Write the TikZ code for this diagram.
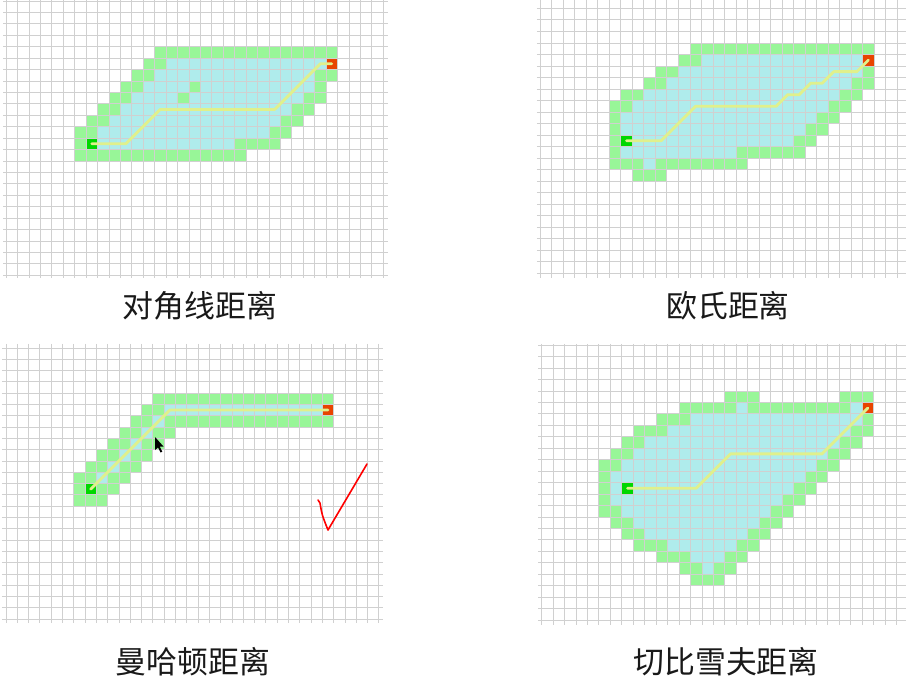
\documentclass[tikz,border=0pt]{standalone}
\usepackage{fontspec}
\newfontfamily\cjk{Noto Sans CJK SC}
\definecolor{opencol}{RGB}{152,246,152}
\definecolor{closedcol}{RGB}{175,236,236}
\definecolor{startcol}{RGB}{0,215,0}
\definecolor{endcol}{RGB}{232,68,0}
\definecolor{gridcol}{RGB}{208,208,208}
\definecolor{pathcol}{RGB}{224,240,140}
\definecolor{labelcol}{RGB}{25,25,25}
\newcommand\cellrun[4]{\fill[#1] (#3,#2) rectangle ({#4+1},{#2+1});}
\tikzset{
  gridline/.style={draw=gridcol, line width=0.65bp},
  pathline/.style={draw=pathcol, line width=2.8bp, line join=round, line cap=round},
  captext/.style={font=\cjk\fontsize{31}{36}\selectfont, text=labelcol, inner sep=0pt},
  checkmark/.style={draw=red, line width=1.6bp, line cap=round, line join=round},
}
\begin{document}
\begin{tikzpicture}[x=1bp,y={(0bp,-1bp)}]
\useasboundingbox (0,0) rectangle (906,687);
\fill[white] (0,0) rectangle (906,687);

% ---------- Panel 1: diagonal ----------
\begin{scope}[shift={(86,138)}, x=11.43bp, y={(0bp,-11.43bp)}]
\cellrun{opencol}{-8}{6}{21}
\cellrun{opencol}{-7}{5}{6} \cellrun{closedcol}{-7}{7}{20}
\cellrun{opencol}{-6}{4}{5} \cellrun{closedcol}{-6}{6}{19} \cellrun{opencol}{-6}{20}{21}
\cellrun{opencol}{-5}{3}{4} \cellrun{closedcol}{-5}{5}{19} \cellrun{opencol}{-5}{9}{9} \cellrun{opencol}{-5}{20}{20}
\cellrun{opencol}{-4}{2}{3} \cellrun{closedcol}{-4}{4}{18} \cellrun{opencol}{-4}{8}{8} \cellrun{opencol}{-4}{19}{20}
\cellrun{opencol}{-3}{1}{2} \cellrun{closedcol}{-3}{3}{17} \cellrun{opencol}{-3}{18}{19}
\cellrun{opencol}{-2}{0}{1} \cellrun{closedcol}{-2}{2}{16} \cellrun{opencol}{-2}{17}{18}
\cellrun{opencol}{-1}{-1}{0} \cellrun{closedcol}{-1}{1}{15} \cellrun{opencol}{-1}{16}{17}
\cellrun{opencol}{0}{-1}{-1} \cellrun{closedcol}{0}{1}{12} \cellrun{opencol}{0}{13}{16}
\cellrun{opencol}{1}{-1}{13}
\fill[startcol] (0,0) rectangle (1,1);
\fill[endcol] (21,-7) rectangle (22,-6);
\foreach \i in {-7,...,26} \draw[gridline] (\i,-12.07) -- (\i,12.25);
\foreach \j in {-12,...,12} \draw[gridline] (-7.26,\j) -- (26.42,\j);
\draw[pathline] (0.5,0.5) -- (3.5,0.5) -- (6.5,-2.5) -- (16.5,-2.5) -- (20.5,-6.5) -- (21.5,-6.5);
\end{scope}

% ---------- Panel 2: euclidean ----------
\begin{scope}[shift={(620.7,135)}, x=11.52bp, y={(0bp,-11.52bp)}]
\cellrun{opencol}{-8}{6}{21}
\cellrun{opencol}{-7}{5}{6} \cellrun{closedcol}{-7}{7}{20}
\cellrun{opencol}{-6}{3}{4} \cellrun{closedcol}{-6}{5}{20} \cellrun{opencol}{-6}{21}{21}
\cellrun{opencol}{-5}{2}{3} \cellrun{closedcol}{-5}{4}{19} \cellrun{opencol}{-5}{20}{21}
\cellrun{opencol}{-4}{0}{1} \cellrun{closedcol}{-4}{2}{18} \cellrun{opencol}{-4}{19}{20}
\cellrun{opencol}{-3}{-1}{0} \cellrun{closedcol}{-3}{1}{17} \cellrun{opencol}{-3}{18}{19}
\cellrun{opencol}{-2}{-1}{-1} \cellrun{closedcol}{-2}{0}{16} \cellrun{opencol}{-2}{17}{18}
\cellrun{opencol}{-1}{-1}{-1} \cellrun{closedcol}{-1}{0}{15} \cellrun{opencol}{-1}{16}{17}
\cellrun{opencol}{0}{-1}{-1} \cellrun{closedcol}{0}{1}{14} \cellrun{opencol}{0}{15}{16}
\cellrun{opencol}{1}{-1}{-1} \cellrun{closedcol}{1}{0}{9} \cellrun{opencol}{1}{10}{15}
\cellrun{opencol}{2}{-1}{1} \cellrun{closedcol}{2}{2}{2} \cellrun{opencol}{2}{3}{10}
\cellrun{opencol}{3}{1}{3}
\fill[startcol] (0,0) rectangle (1,1);
\fill[endcol] (21,-7) rectangle (22,-6);
\foreach \i in {-7,...,24} \draw[gridline] (\i,-11.72) -- (\i,12.41);
\foreach \j in {-11,...,12} \draw[gridline] (-7.27,\j) -- (24.77,\j);
\draw[pathline] (0.5,0.5) -- (3.5,0.5) -- (6.5,-2.5) -- (13.5,-2.5) -- (14.5,-3.5) -- (15.5,-3.5)
  -- (16.5,-4.5) -- (17.5,-4.5) -- (18.5,-5.5) -- (20.5,-5.5) -- (21.5,-6.5);
\end{scope}

% ---------- Panel 3: manhattan ----------
\begin{scope}[shift={(85,483.5)}, x=11.3bp, y={(0bp,-11.3bp)}]
\cellrun{opencol}{-8}{6}{21}
\cellrun{opencol}{-7}{5}{6} \cellrun{closedcol}{-7}{7}{20}
\cellrun{opencol}{-6}{4}{5} \cellrun{closedcol}{-6}{6}{6} \cellrun{opencol}{-6}{7}{21}
\cellrun{opencol}{-5}{3}{4} \cellrun{closedcol}{-5}{5}{5} \cellrun{opencol}{-5}{6}{7}
\cellrun{opencol}{-4}{2}{3} \cellrun{closedcol}{-4}{4}{4} \cellrun{opencol}{-4}{5}{6}
\cellrun{opencol}{-3}{1}{2} \cellrun{closedcol}{-3}{3}{3} \cellrun{opencol}{-3}{4}{5}
\cellrun{opencol}{-2}{0}{1} \cellrun{closedcol}{-2}{2}{2} \cellrun{opencol}{-2}{3}{4}
\cellrun{opencol}{-1}{-1}{0} \cellrun{closedcol}{-1}{1}{1} \cellrun{opencol}{-1}{2}{3}
\cellrun{opencol}{0}{-1}{-1} \cellrun{opencol}{0}{1}{2}
\cellrun{opencol}{1}{-1}{1}
\fill[startcol] (0,0) rectangle (1,1);
\fill[endcol] (21,-7) rectangle (22,-6);
\foreach \i in {-7,...,26} \draw[gridline] (\i,-12.35) -- (\i,12.35);
\foreach \j in {-12,...,12} \draw[gridline] (-7.35,\j) -- (26.37,\j);
\draw[pathline] (0.5,0.5) -- (7.5,-6.5) -- (21.5,-6.5);
\end{scope}

% ---------- Panel 4: chebyshev ----------
\begin{scope}[shift={(621.7,482.5)}, x=11.45bp, y={(0bp,-11.45bp)}]
\cellrun{opencol}{-8}{9}{11} \cellrun{opencol}{-8}{19}{21}
\cellrun{opencol}{-7}{5}{9} \cellrun{closedcol}{-7}{10}{10} \cellrun{opencol}{-7}{11}{19} \cellrun{closedcol}{-7}{20}{20}
\cellrun{opencol}{-6}{3}{5} \cellrun{closedcol}{-6}{6}{20} \cellrun{opencol}{-6}{21}{21}
\cellrun{opencol}{-5}{1}{3} \cellrun{closedcol}{-5}{4}{19} \cellrun{opencol}{-5}{20}{21}
\cellrun{opencol}{-4}{0}{1} \cellrun{closedcol}{-4}{2}{18} \cellrun{opencol}{-4}{19}{20}
\cellrun{opencol}{-3}{-1}{0} \cellrun{closedcol}{-3}{1}{17} \cellrun{opencol}{-3}{18}{19}
\cellrun{opencol}{-2}{-2}{-1} \cellrun{closedcol}{-2}{0}{16} \cellrun{opencol}{-2}{17}{18}
\cellrun{opencol}{-1}{-2}{-2} \cellrun{closedcol}{-1}{-1}{15} \cellrun{opencol}{-1}{16}{17}
\cellrun{opencol}{0}{-2}{-2} \cellrun{closedcol}{0}{-1}{14} \cellrun{opencol}{0}{15}{16}
\cellrun{opencol}{1}{-2}{-2} \cellrun{closedcol}{1}{-1}{13} \cellrun{opencol}{1}{14}{15}
\cellrun{opencol}{2}{-2}{-1} \cellrun{closedcol}{2}{0}{12} \cellrun{opencol}{2}{13}{14}
\cellrun{opencol}{3}{-1}{0} \cellrun{closedcol}{3}{1}{11} \cellrun{opencol}{3}{12}{13}
\cellrun{opencol}{4}{0}{1} \cellrun{closedcol}{4}{2}{10} \cellrun{opencol}{4}{11}{12}
\cellrun{opencol}{5}{1}{3} \cellrun{closedcol}{5}{4}{9} \cellrun{opencol}{5}{10}{11}
\cellrun{opencol}{6}{3}{5} \cellrun{closedcol}{6}{6}{8} \cellrun{opencol}{6}{9}{10}
\cellrun{opencol}{7}{5}{6} \cellrun{closedcol}{7}{7}{7} \cellrun{opencol}{7}{8}{9}
\cellrun{opencol}{8}{6}{8}
\fill[startcol] (0,0) rectangle (1,1);
\fill[endcol] (21,-7) rectangle (22,-6);
\foreach \i in {-7,...,24} \draw[gridline] (\i,-12.1) -- (\i,12.45);
\foreach \j in {-12,...,12} \draw[gridline] (-7.31,\j) -- (24.83,\j);
\draw[pathline] (0.5,0.5) -- (6.5,0.5) -- (9.5,-2.5) -- (17.5,-2.5) -- (21.5,-6.5);
\end{scope}

% mouse cursor in panel 3
\fill[black] (155,437) -- (155,450) -- (158,447.5) -- (160.5,452.5) -- (162.3,451.6)
  -- (159.8,446.7) -- (163.5,446.5) -- cycle;

% red check mark
\draw[checkmark] (318,500) -- (320,503) .. controls (322,515) .. (328,530) -- (367,464);

% labels
\node[captext] (t1) at (200,306) {对角线距离};
\node[captext] (t2) at (728,306) {欧氏距离};
\node[captext] (t3) at (193,662) {曼哈顿距离};
\node[captext] (t4) at (726,662) {切比雪夫距离};
\end{tikzpicture}
\end{document}
